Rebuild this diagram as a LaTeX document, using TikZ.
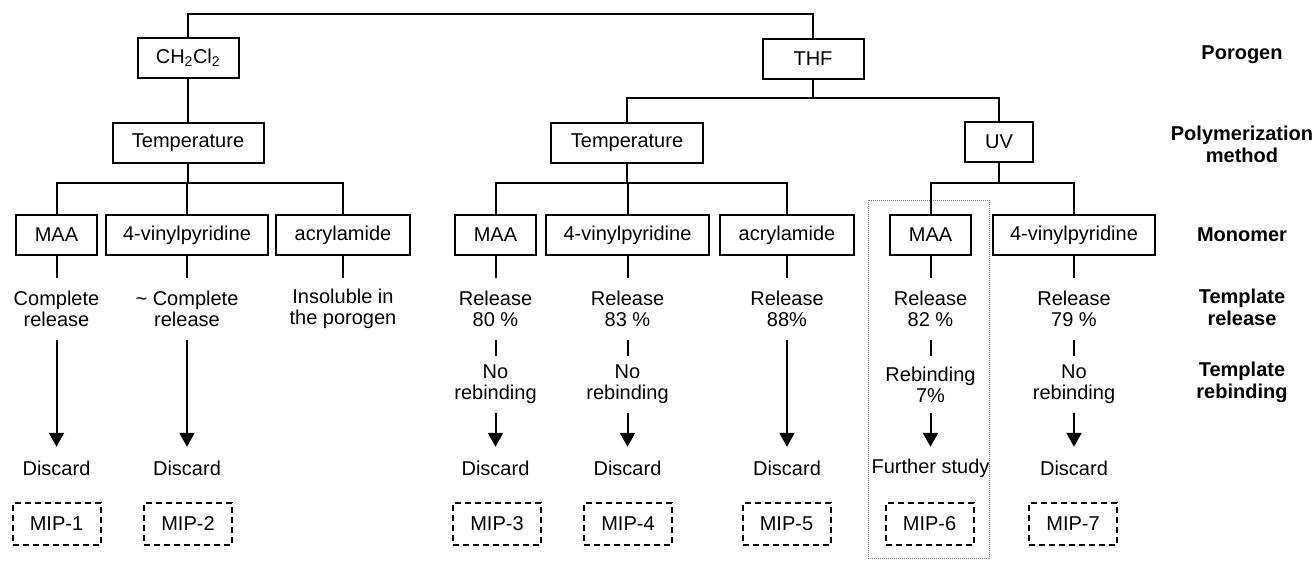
\documentclass[tikz,border=0pt]{standalone}
\usepackage{fontspec}
\setmainfont{Liberation Sans}
\usetikzlibrary{arrows.meta}
\begin{document}
\begin{tikzpicture}[x=1pt,y=-1pt,
  every node/.style={font=\fontsize{20}{21}\selectfont, align=center, inner sep=0pt},
  box/.style={draw, line width=2pt, minimum height=40pt},
  mip/.style={draw, line width=2pt, dash pattern=on 6pt off 4pt, minimum height=42pt, minimum width=88pt},
  reltxt/.style={minimum height=62pt},
  rebtxt/.style={minimum height=57pt},
  distxt/.style={minimum height=42pt},
  lbl/.style={font=\fontsize{20}{22}\selectfont\bfseries},
  con/.style={line width=2pt},
  arr/.style={line width=2pt, -{Triangle[length=14pt,width=15pt]}},
]
\useasboundingbox (0,0) rectangle (1312,560);

% dotted highlight
\draw[gray, line width=0.9pt, dash pattern=on 1pt off 1pt] (868,200) rectangle (989,558);

% level 1
\node[box, minimum width=101pt] (ch) at (188,58) {CH\textsubscript{2}Cl\textsubscript{2}};
\node[box, minimum width=101pt] (thf) at (813,59) {THF};
\coordinate (top) at (500,14);
\draw[con] (ch.north) |- (top) -| (thf.north);

% level 2
\node[box, minimum width=151pt] (tA) at (188,143) {Temperature};
\node[box, minimum width=152pt] (tB) at (627,143) {Temperature};
\node[box, minimum width=68pt] (uv) at (999,142) {UV};
\draw[con] (ch.south) -- (tA.north);
\coordinate (jT) at (813,98);
\draw[con] (thf.south) -- (jT);
\draw[con] (tB.north) |- (jT) -| (uv.north);

% level 3
\node[box, minimum width=81pt] (m1) at (56.5,235) {MAA};
\node[box, minimum width=162pt] (v1) at (187,235) {4-vinylpyridine};
\node[box, minimum width=134pt] (a1) at (343,235) {acrylamide};
\node[box, minimum width=81pt] (m2) at (495.5,235) {MAA};
\node[box, minimum width=163pt] (v2) at (627.5,235) {4-vinylpyridine};
\node[box, minimum width=134pt] (a2) at (787,235) {acrylamide};
\node[box, minimum width=81pt] (m3) at (930.5,235) {MAA};
\node[box, minimum width=162pt] (v3) at (1074,235) {4-vinylpyridine};

\coordinate (jA) at (188,183);
\coordinate (jB) at (627,183);
\coordinate (jC) at (999,183);
\draw[con] (tA.south) -- (jA);
\draw[con] (m1.north) |- (jA) -| (a1.north);
\draw[con] (v1.north) -- (v1.north |- jA);
\draw[con] (tB.south) -- (jB);
\draw[con] (m2.north) |- (jB) -| (a2.north);
\draw[con] (v2.north) -- (v2.north |- jB);
\draw[con] (uv.south) -- (jC);
\draw[con] (m3.north) |- (jC) -| (v3.north);

% template release
\node[reltxt] (r1) at (56.5,309) {Complete\\release};
\node[reltxt] (r2) at (187,309) {\textasciitilde{} Complete\\release};
\node[reltxt] (r3) at (343,309) {Insoluble in\\the porogen};
\node[reltxt] (r4) at (495.5,309) {Release\\80 \%};
\node[reltxt] (r5) at (627.5,309) {Release\\83 \%};
\node[reltxt] (r6) at (787,309) {Release\\88\%};
\node[reltxt] (r7) at (930.5,309) {Release\\82 \%};
\node[reltxt] (r8) at (1074,309) {Release\\79 \%};
\foreach \a/\b in {m1/r1,v1/r2,a1/r3,m2/r4,v2/r5,a2/r6,m3/r7,v3/r8}
  \draw[con] (\a.south) -- (\b.north);

% template rebinding
\node[rebtxt] (b4) at (495.5,384.5) {No\\rebinding};
\node[rebtxt] (b5) at (627.5,384.5) {No\\rebinding};
\node[rebtxt] (b7) at (930.5,384.5) {Rebinding\\7\%};
\node[rebtxt] (b8) at (1074,384.5) {No\\rebinding};
\foreach \a/\b in {r4/b4,r5/b5,r7/b7,r8/b8}
  \draw[con] (\a.south) -- (\b.north);

% outcome
\node[distxt] (d1) at (56.5,468) {Discard};
\node[distxt] (d2) at (187,468) {Discard};
\node[distxt] (d4) at (495.5,468) {Discard};
\node[distxt] (d5) at (627.5,468) {Discard};
\node[distxt] (d6) at (787,468) {Discard};
\node[distxt] (d7) at (930.5,468) {Further study};
\node[distxt] (d8) at (1074,468) {Discard};
\foreach \a/\b in {r1/d1,r2/d2,b4/d4,b5/d5,r6/d6,b7/d7,b8/d8}
  \draw[arr] (\a.south) -- (\b.north);

% MIPs
\node[mip] (p1) at (56.5,524) {MIP-1};
\node[mip] (p2) at (188,524) {MIP-2};
\node[mip] (p3) at (497,524) {MIP-3};
\node[mip] (p4) at (628,524) {MIP-4};
\node[mip] (p5) at (786.5,524) {MIP-5};
\node[mip] (p6) at (929.5,524) {MIP-6};
\node[mip] (p7) at (1073,524) {MIP-7};

% level labels
\node[lbl] (L1) at (1242,55) {Porogen};
\node[lbl] (L2) at (1242,144) {Polymerization\\method};
\node[lbl] (L3) at (1242,235) {Monomer};
\node[lbl] (L4) at (1242,307) {Template\\release};
\node[lbl] (L5) at (1242,382) {Template\\rebinding};
\end{tikzpicture}
\end{document}
